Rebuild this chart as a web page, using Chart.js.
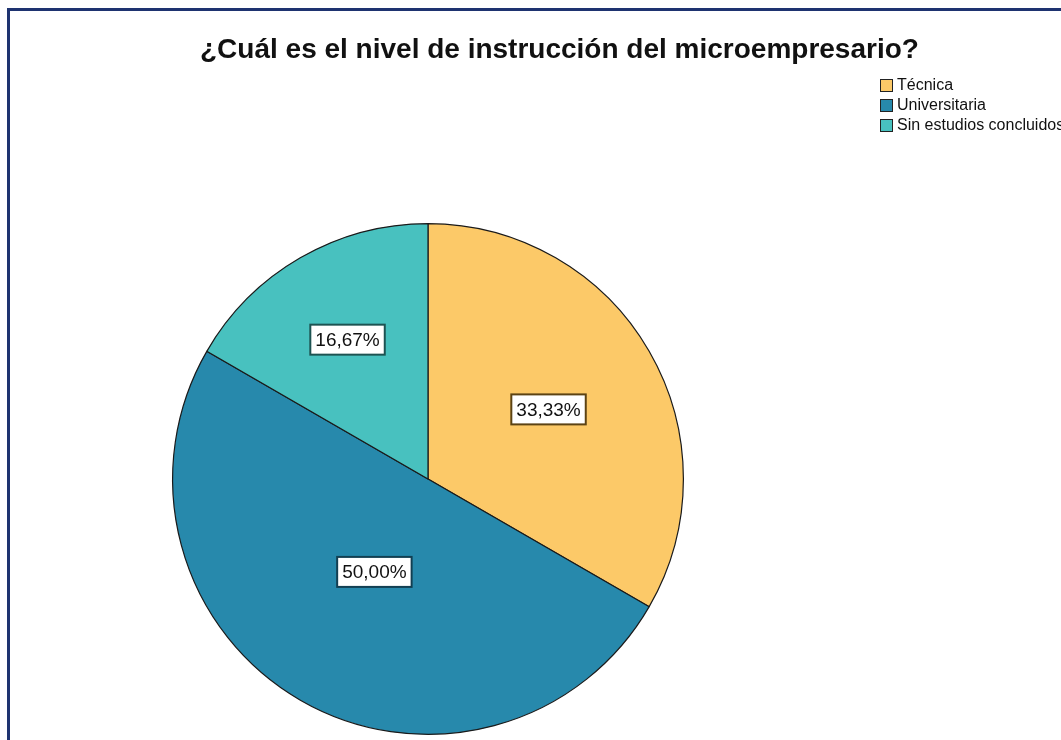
<!DOCTYPE html>
<html>
<head>
<meta charset="utf-8">
<script src="https://cdn.jsdelivr.net/npm/chart.js@4"></script>
<style>
  html, body { margin: 0; padding: 0; background: #fff; overflow: hidden; }
  #frame { position: absolute; left: 7px; top: 8px; width: 1200px; height: 900px; border: 3px solid #1e3370; box-sizing: border-box; }
  #wrap { position: absolute; left: 0; top: 0; width: 1061px; height: 740px; }
</style>
</head>
<body>
<div id="frame"></div>
<div id="wrap"><canvas id="pie"></canvas></div>
<script>
// data
const categories = ['Técnica', 'Universitaria', 'Sin estudios concluidos'];
const percentages = [33.33, 50.00, 16.67];
const sliceColors = ['#FCC968', '#2789AC', '#48C1BF'];
const labelBorders = ['#5c4314', '#123f52', '#1d5352'];
const chartTitle = '¿Cuál es el nivel de instrucción del microempresario?';

const FONT = '"Liberation Sans", Arial, sans-serif';

function fmtPct(v) {
  return v.toFixed(2).replace('.', ',') + '%';
}

// draws title, legend list and the boxed value labels
const spssDecor = {
  id: 'spssDecor',
  afterDatasetsDraw(chart, args, opts) {
    const ctx = chart.ctx;
    ctx.save();

    // title
    ctx.font = 'bold 28px ' + FONT;
    ctx.fillStyle = '#111';
    ctx.textAlign = 'left';
    ctx.textBaseline = 'middle';
    ctx.fillText(chartTitle, opts.titleX, opts.titleY);

    // legend
    ctx.font = '16px ' + FONT;
    categories.forEach((c, i) => {
      const y = opts.legendY + i * opts.legendStep;
      ctx.fillStyle = sliceColors[i];
      ctx.fillRect(opts.legendX, y - 7, 13, 13);
      ctx.strokeStyle = '#222';
      ctx.lineWidth = 1;
      ctx.strokeRect(opts.legendX + 0.5, y - 6.5, 12, 12);
      ctx.fillStyle = '#111';
      ctx.fillText(c, opts.legendX + 17, y);
    });

    // value labels
    const meta = chart.getDatasetMeta(0);
    ctx.font = '19px ' + FONT;
    ctx.textAlign = 'center';
    meta.data.forEach((arc, i) => {
      const p = arc.getProps(['x', 'y', 'startAngle', 'endAngle', 'outerRadius'], true);
      const mid = (p.startAngle + p.endAngle) / 2;
      const r = p.outerRadius * opts.labelRadius[i];
      const x = p.x + Math.cos(mid) * r;
      const y = p.y + Math.sin(mid) * r;
      const txt = fmtPct(percentages[i]);
      const w = ctx.measureText(txt).width + 10;
      const h = 30;
      ctx.fillStyle = '#fff';
      ctx.fillRect(x - w / 2, y - h / 2, w, h);
      ctx.strokeStyle = labelBorders[i];
      ctx.lineWidth = 2;
      ctx.strokeRect(x - w / 2, y - h / 2, w, h);
      ctx.fillStyle = '#111';
      ctx.fillText(txt, x, y + 1);
    });

    ctx.restore();
  }
};

new Chart(document.getElementById('pie'), {
  type: 'pie',
  data: {
    labels: categories,
    datasets: [{
      data: percentages,
      backgroundColor: sliceColors,
      borderColor: '#1a1a1a',
      borderWidth: 1.2
    }]
  },
  options: {
    responsive: true,
    maintainAspectRatio: false,
    animation: false,
    layout: { padding: { top: 223, bottom: 5, left: 150, right: 355 } },
    plugins: {
      legend: { display: false },
      title: { display: false },
      tooltip: { enabled: false },
      spssDecor: {
        titleX: 200, titleY: 50,
        legendX: 880, legendY: 86, legendStep: 20,
        labelRadius: [0.545, 0.42, 0.63]
      }
    }
  },
  plugins: [spssDecor]
});
</script>
</body>
</html>
